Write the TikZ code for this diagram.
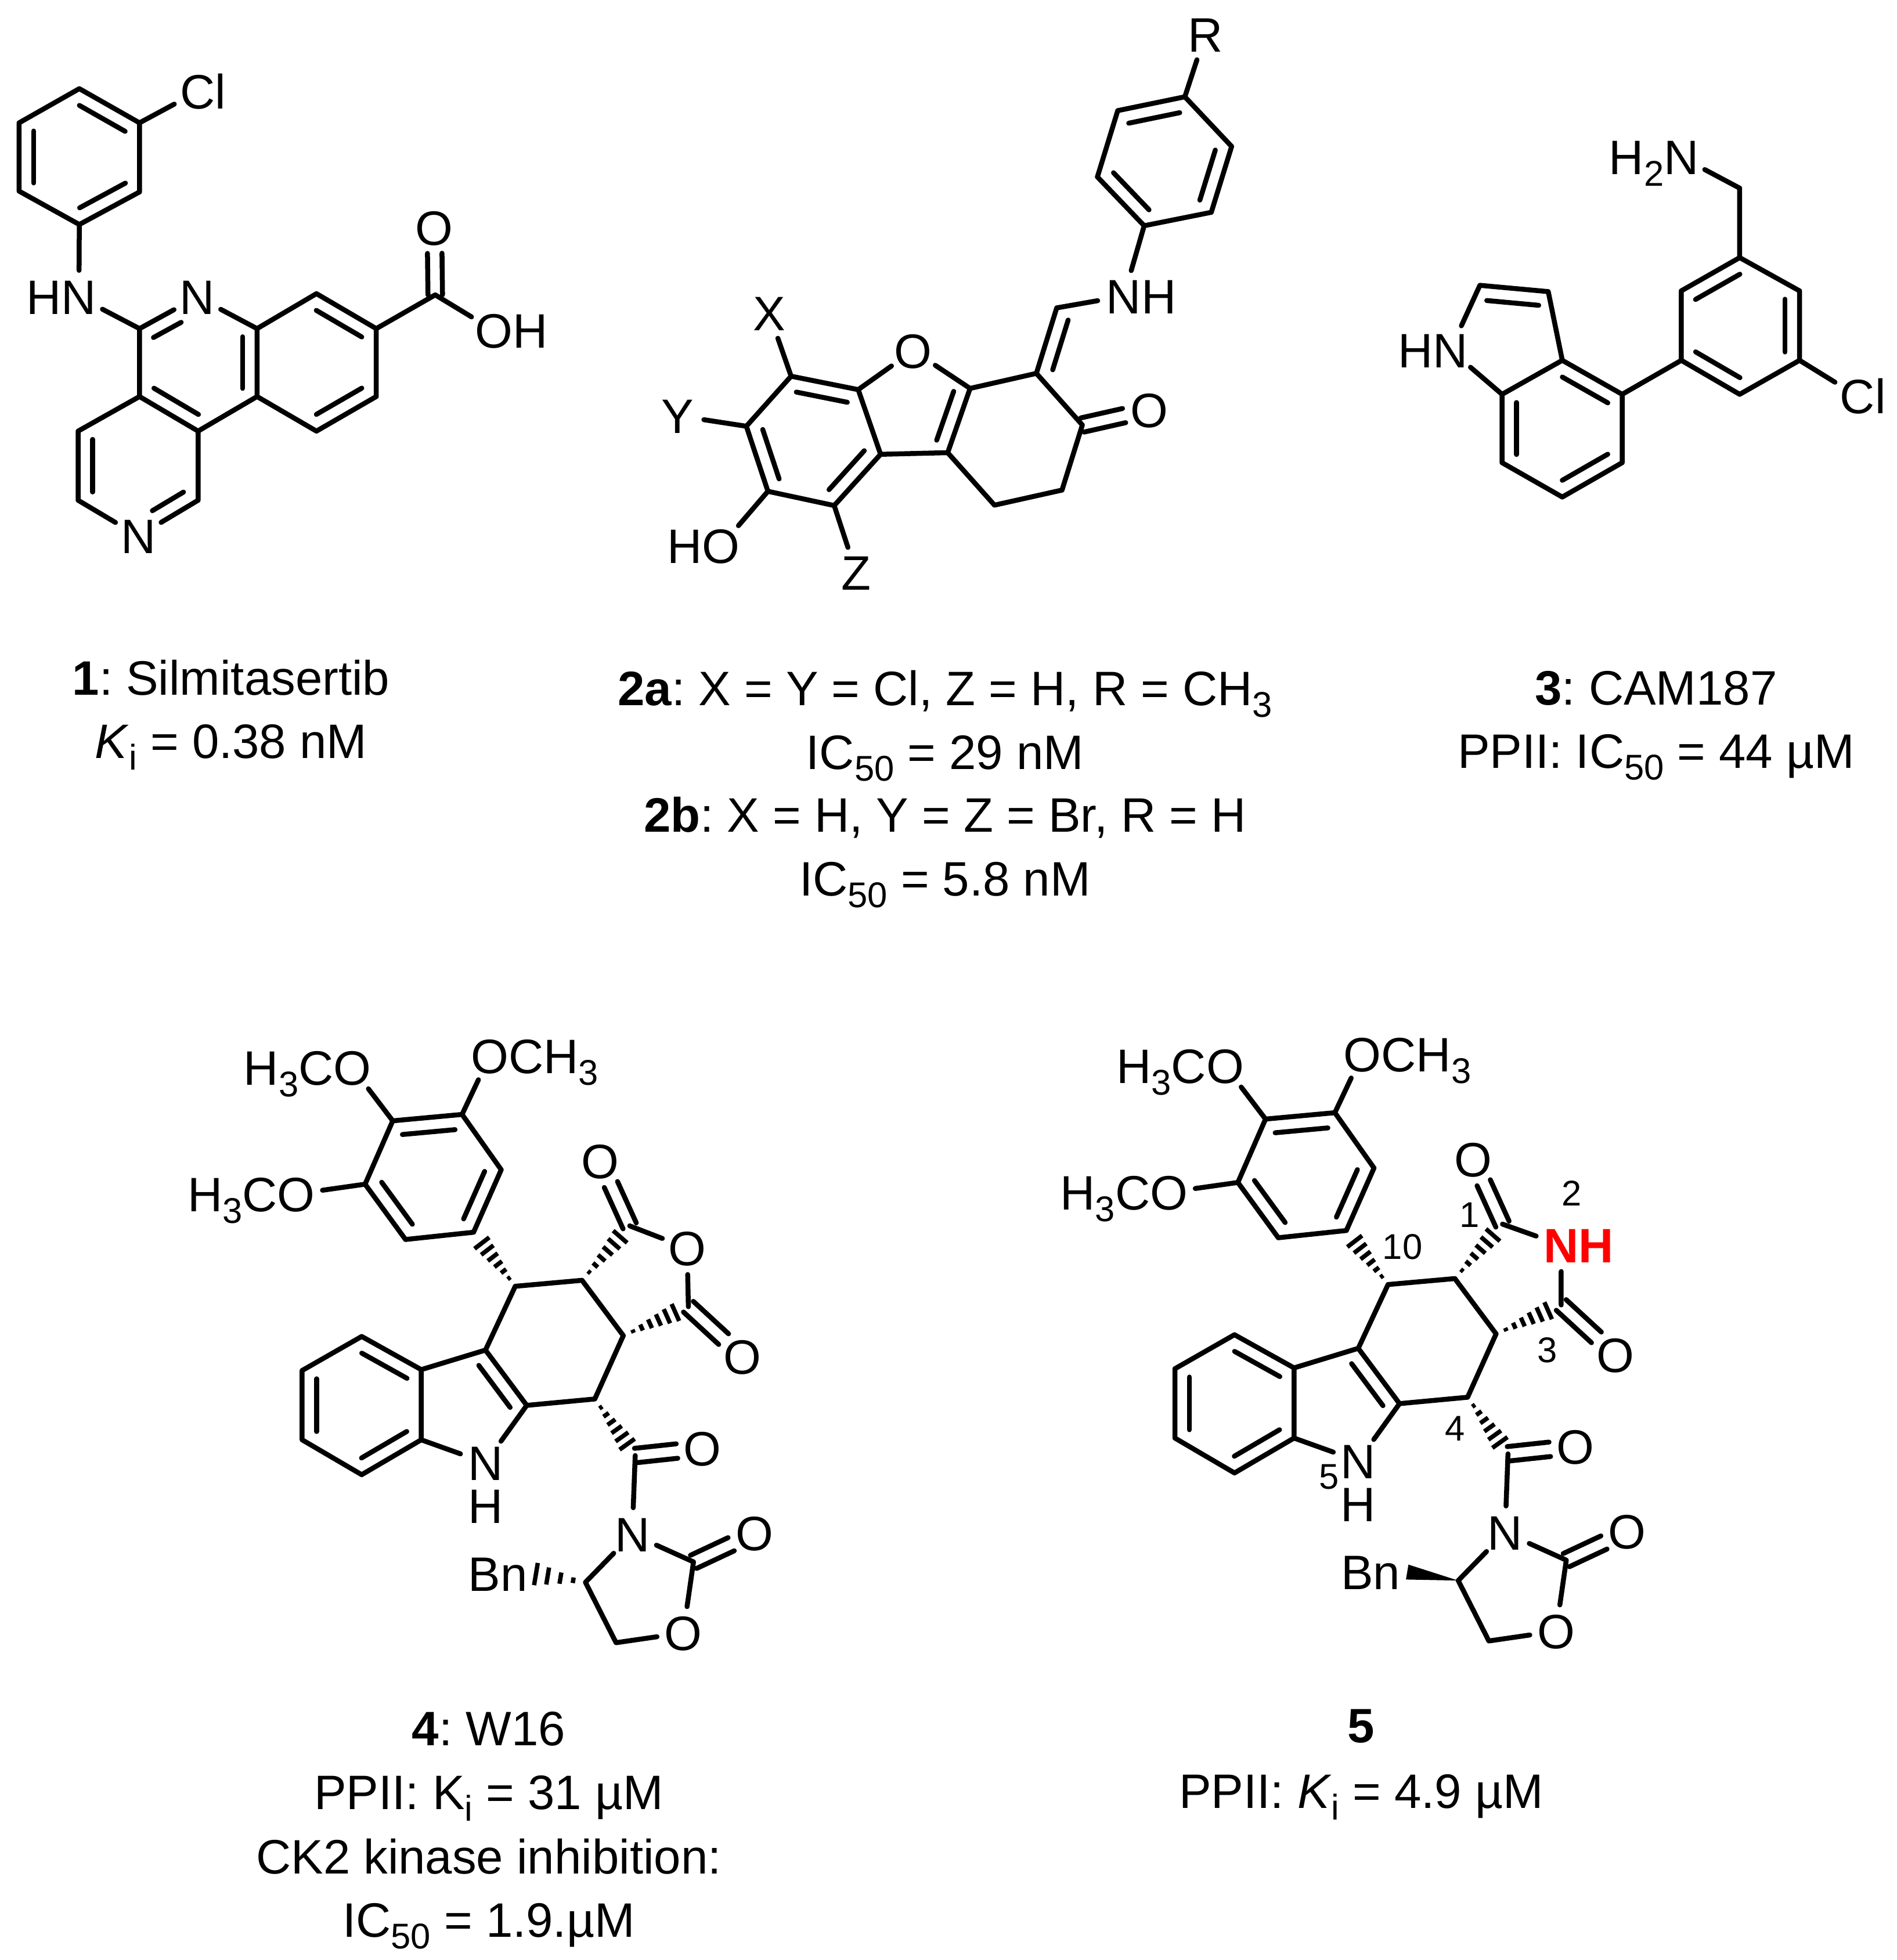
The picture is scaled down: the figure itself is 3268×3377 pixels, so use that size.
\documentclass[tikz,border=0pt]{standalone}
\usepackage{fontspec}
\setmainfont{Liberation Sans}
\frenchspacing
\usetikzlibrary{calc}
\newcommand{\labelfont}{\fontsize{23.7}{28}\selectfont}
\newcommand{\chemsub}[1]{\raisebox{-.24em}{\fontsize{17.5}{17.5}\selectfont #1}}
\tikzset{
	bond/.style={
		line width=.085cm,
		line cap=round,
		line join=round
	},
	hash/.style={
		line width=.075cm
	},
	atom/.style={
		circle,
		inner sep=0pt,
		minimum size=.9cm,
		text height=.6cm,
		text depth=0pt,
		font=\labelfont
	},
	caption/.style={
		anchor=base,
		inner sep=0pt,
		font=\labelfont
	},
	locant/.style={
		inner sep=0pt,
		font=\fontsize{17.5}{20}\selectfont
	}
}
% inner stroke of a ring double bond, on the left of from -> to
\newcommand{\inbond}[3][.12]{\draw[bond] ($(#2)!#1!(#3)!.25cm!90:(#3)$) -- ($(#3)!.12!(#2)!.25cm!-90:(#2)$);}
% C=O drawn as two strokes
\newcommand{\dblbond}[2]{\foreach \sgn in {1,-1} \draw[bond] ($(#1)!\sgn*.125cm!90:(#2)$) -- ($(#2)!.44cm!(#1)!\sgn*.125cm!-90:(#1)$);}
% hashed wedge, narrow end first
\newcommand{\hashbond}[3][.15,.28,.41,.54,.67,.8]{\foreach \frc in {#1} \draw[hash] ($(#2)!\frc!(#3)!\frc*.2cm!90:(#3)$) -- ($(#2)!\frc!(#3)!\frc*.2cm!-90:(#3)$);}
% skeleton shared by 4 and 5, the bridge atom (x) comes from the caller
\newcommand{\tetracore}{
	\node[atom] (om1) at (743,90) {O\rlap{CH\chemsub{3}}};
	\node[atom] (om2) at (420,118) {\llap{H\chemsub{3}C}O};
	\node[atom] (om3) at (288,415) {\llap{H\chemsub{3}C}O};
	\coordinate (t1) at (678,228); \coordinate (t2) at (515,243); \coordinate (t3) at (450,392);
	\coordinate (t4) at (545,522); \coordinate (t5) at (705,505); \coordinate (t6) at (770,358);
	\coordinate (u1) at (803,632); \coordinate (u2) at (960,618); \coordinate (u3) at (1057,748);
	\coordinate (u4) at (990,897); \coordinate (u5) at (830,912); \coordinate (u6) at (733,782);
	\coordinate (v1) at (582,828); \coordinate (v2) at (582,993);
	\coordinate (w1) at (442,750); \coordinate (w2) at (302,830);
	\coordinate (w3) at (302,993); \coordinate (w4) at (442,1075);
	\node[atom] (nh) at (733,1047) {N};
	\node[atom, rectangle, minimum size=0pt] (hn) at (733,1148) {H};
	\coordinate (cc1) at (1072,490); \coordinate (cc2) at (1210,680); \coordinate (cc3) at (1085,1030);
	\node[atom] (oc1) at (1003,338) {O};
	\node[atom] (oc2) at (1337,797) {O};
	\node[atom] (oc3) at (1243,1013) {O};
	\node[atom] (nox) at (1078,1215) {N};
	\coordinate (coz) at (1222,1280);
	\node[atom] (ooz) at (1365,1213) {O};
	\node[atom] (oox) at (1198,1447) {O};
	\coordinate (ch2) at (1040,1470); \coordinate (chb) at (968,1328);
	\node[atom] (bn) at (800,1308) {\llap{B}n};
	\coordinate (bnend) at (848,1308);

	\draw[bond] (t1) -- (t2) -- (t3) -- (t4) -- (t5) -- (t6) -- (t1);
	\inbond{t1}{t2} \inbond{t3}{t4} \inbond{t5}{t6}
	\draw[bond] (t1) -- (om1);
	\draw[bond] (t2) -- (om2);
	\draw[bond] (t3) -- (om3);

	\draw[bond] (u1) -- (u2) -- (u3) -- (u4) -- (u5) -- (u6) -- (u1);
	\inbond{u5}{u6}
	\draw[bond] (u6) -- (v1) -- (v2) -- (nh) -- (u5);
	\draw[bond] (v1) -- (w1) -- (w2) -- (w3) -- (w4) -- (v2);
	\inbond{v1}{w1} \inbond{w2}{w3} \inbond{w4}{v2}

	\hashbond{u1}{t5}
	\hashbond{u2}{cc1}
	\hashbond{u3}{cc2}
	\hashbond{u4}{cc3}

	\dblbond{cc1}{oc1}
	\dblbond{cc2}{oc2}
	\dblbond{cc3}{oc3}
	\dblbond{coz}{ooz}
	\draw[bond] (cc1) -- (x) -- (cc2);
	\draw[bond] (cc3) -- (nox) -- (coz) -- (oox) -- (ch2) -- (chb) -- (nox);
}

\begin{document}
\begin{tikzpicture}[x=.01cm, y=-.01cm]
\useasboundingbox (0,0) rectangle (3268,3377);

% ---
% 1
% ---
\begin{scope}[x=.007cm, y=-.007cm]
\coordinate (a1) at (195,218); \coordinate (a2) at (343,302); \coordinate (a3) at (343,472);
\coordinate (a4) at (195,552); \coordinate (a5) at (47,470); \coordinate (a6) at (47,302);
\node[atom] (cl) at (486,225) {C\rlap{l}};
\node[atom] (nha) at (194,730) {\llap{H}N};
\node[atom] (npy) at (485,730) {N};
\node[atom] (npb) at (340,1318) {N};
\coordinate (c1) at (343,808); \coordinate (c2) at (632,808); \coordinate (c3) at (632,975);
\coordinate (c4) at (487,1060); \coordinate (c5) at (343,975);
\coordinate (p1) at (192,1060); \coordinate (p2) at (192,1230); \coordinate (p3) at (487,1230);
\coordinate (r1) at (778,722); \coordinate (r2) at (925,808); \coordinate (r3) at (925,975); \coordinate (r4) at (778,1060);
\coordinate (cc) at (1070,725);
\node[atom] (oa) at (1068,560) {O};
\node[atom] (ob) at (1215,813) {O\rlap{H}};

\draw[bond] (a1) -- (a2) -- (a3) -- (a4) -- (a5) -- (a6) -- (a1);
\inbond{a2}{a1} \inbond{a6}{a5} \inbond{a4}{a3}
\draw[bond] (a2) -- (cl);
\draw[bond] (a4) -- (nha) -- (c1);
\draw[bond] (c1) -- (npy) -- (c2) -- (c3) -- (c4) -- (c5) -- (c1);
\inbond[.4]{npy}{c1} \inbond{c5}{c4} \inbond{c3}{c2}
\draw[bond] (c5) -- (p1) -- (p2) -- (npb) -- (p3) -- (c4);
\inbond{p1}{p2} \inbond[.36]{npb}{p3}
\draw[bond] (c2) -- (r1) -- (r2) -- (r3) -- (r4) -- (c3);
\inbond{r2}{r1} \inbond{r4}{r3}
\draw[bond] (r2) -- (cc) -- (ob);
\dblbond{cc}{oa}
\end{scope}

% ---
% 2
% ---
\begin{scope}[x=.007cm, y=-.007cm, shift={(10.49cm,0cm)}]
\node[atom] (r) at (1465,85) {R};
\coordinate (d1) at (1415,238); \coordinate (d2) at (1250,272); \coordinate (d3) at (1200,435);
\coordinate (d4) at (1315,555); \coordinate (d5) at (1480,522); \coordinate (d6) at (1530,360);
\node[atom] (nh) at (1265,728) {N\rlap{H}};
\coordinate (e1) at (1100,757); \coordinate (e2) at (1050,918);
\coordinate (f1) at (887,955);
\node[atom] (of) at (747,862) {O};
\coordinate (g1) at (612,958); \coordinate (g2) at (447,925); \coordinate (g3) at (337,1048);
\coordinate (g4) at (390,1208); \coordinate (g5) at (553,1243); \coordinate (g6) at (667,1117);
\coordinate (h1) at (832,1113); \coordinate (h2) at (947,1242); \coordinate (h3) at (1113,1205); \coordinate (h4) at (1163,1045);
\node[atom] (xx) at (393,770) {X};
\node[atom] (yy) at (168,1022) {Y};
\node[atom] (zz) at (607,1408) {Z};
\node[atom] (oh) at (275,1342) {\llap{H}O};
\node[atom] (ok) at (1327,1008) {O};

\draw[bond] (r) -- (d1) -- (d2) -- (d3) -- (d4) -- (d5) -- (d6) -- (d1);
\inbond{d1}{d2} \inbond{d3}{d4} \inbond{d5}{d6}
\draw[bond] (d4) -- (nh) -- (e1) -- (e2) -- (f1) -- (of) -- (g1) -- (g2) -- (g3) -- (g4) -- (g5) -- (g6) -- (g1);
\inbond{e1}{e2}
\inbond{g1}{g2} \inbond{g3}{g4} \inbond{g5}{g6}
\draw[bond] (g6) -- (h1) -- (f1);
\inbond{h1}{f1}
\draw[bond] (h1) -- (h2) -- (h3) -- (h4) -- (e2);
\draw[bond] (g2) -- (xx);
\draw[bond] (g3) -- (yy);
\draw[bond] (g5) -- (zz);
\draw[bond] (g4) -- (oh);
\dblbond{h4}{ok}
\end{scope}

% ---
% 3
% ---
\begin{scope}[x=.00636cm, y=-.00636cm, shift={(22.68cm,-1cm)}]
\node[atom] (nam) at (985,268) {\llap{H\chemsub{2}}N};
\coordinate (k1) at (1143,352); \coordinate (k2) at (1143,540); \coordinate (k3) at (1305,630);
\coordinate (k4) at (1305,818); \coordinate (k5) at (1143,910); \coordinate (k6) at (985,818); \coordinate (k7) at (985,630);
\node[atom] (clb) at (1462,915) {C\rlap{l}};
\coordinate (m1) at (825,910); \coordinate (m2) at (825,1095); \coordinate (m3) at (663,1188);
\coordinate (m4) at (500,1095); \coordinate (m5) at (500,910); \coordinate (m6) at (663,818);
\coordinate (m7) at (625,632); \coordinate (m8) at (440,615);
\node[atom] (nin) at (360,790) {\llap{H}N};

\draw[bond] (nam) -- (k1) -- (k2) -- (k3) -- (k4) -- (k5) -- (k6) -- (k7) -- (k2);
\inbond{k4}{k3} \inbond{k6}{k5} \inbond{k2}{k7}
\draw[bond] (k4) -- (clb);
\draw[bond] (k6) -- (m1) -- (m2) -- (m3) -- (m4) -- (m5) -- (m6) -- (m1);
\inbond{m3}{m2} \inbond{m5}{m4} \inbond{m1}{m6}
\draw[bond] (m6) -- (m7) -- (m8) -- (nin) -- (m5);
\inbond{m7}{m8}
\end{scope}

% ---
% 4
% ---
\begin{scope}[x=.00733cm, y=-.00733cm, shift={(2.99cm,-17.52cm)}]
\node[atom] (x) at (1207,542) {O};
\tetracore
\hashbond[.24,.49,.74,.97]{chb}{bnend}
\end{scope}

% ---
% 5
% ---
\begin{scope}[x=.00733cm, y=-.00733cm, shift={(18.017cm,-17.49cm)}]
\node[atom, text=red, font=\labelfont\bfseries] (x) at (1210,539) {N\rlap{H}};
\tetracore
\fill (chb) -- ($(bnend)!.13cm!90:(chb)$) -- ($(bnend)!.13cm!-90:(chb)$) -- cycle;
\node[locant] (l1) at (995,469) {1};
\node[locant] (l2) at (1235,417) {2};
\node[locant] (l3) at (1178,787) {3};
\node[locant] (l4) at (961,971) {4};
\node[locant] (l5) at (665,1084) {5};
\node[locant] (l10) at (837,544) {10};
\end{scope}

% ---
% captions
% ---
\node[caption] (t1a) at (398,1197) {\textbf{1}: Silmitasertib};
\node[caption] (t1b) at (398,1306) {\textit{K}\chemsub{i} = 0.38 nM};
\node[caption] (t2a) at (1628,1215) {\textbf{2a}: X = Y = Cl, Z = H, R = CH\chemsub{3}};
\node[caption] (t2b) at (1628,1325) {IC\chemsub{50} = 29 nM};
\node[caption] (t2c) at (1628,1433) {\textbf{2b}: X = H, Y = Z = Br, R = H};
\node[caption] (t2d) at (1628,1543) {IC\chemsub{50} = 5.8 nM};
\node[caption] (t3a) at (2853,1214) {\textbf{3}: CAM187};
\node[caption] (t3b) at (2853,1323) {PPII: IC\chemsub{50} = 44 µM};
\node[caption] (t4a) at (842,3007) {\textbf{4}: W16};
\node[caption] (t4b) at (842,3117) {PPII: K\chemsub{i} = 31 µM};
\node[caption] (t4c) at (842,3228) {CK2 kinase inhibition:};
\node[caption] (t4d) at (842,3337) {IC\chemsub{50} = 1.9.µM};
\node[caption] (t5a) at (2345,3002) {\textbf{5}};
\node[caption] (t5b) at (2345,3115) {PPII: \textit{K}\chemsub{i} = 4.9 µM};
\end{tikzpicture}
\end{document}
